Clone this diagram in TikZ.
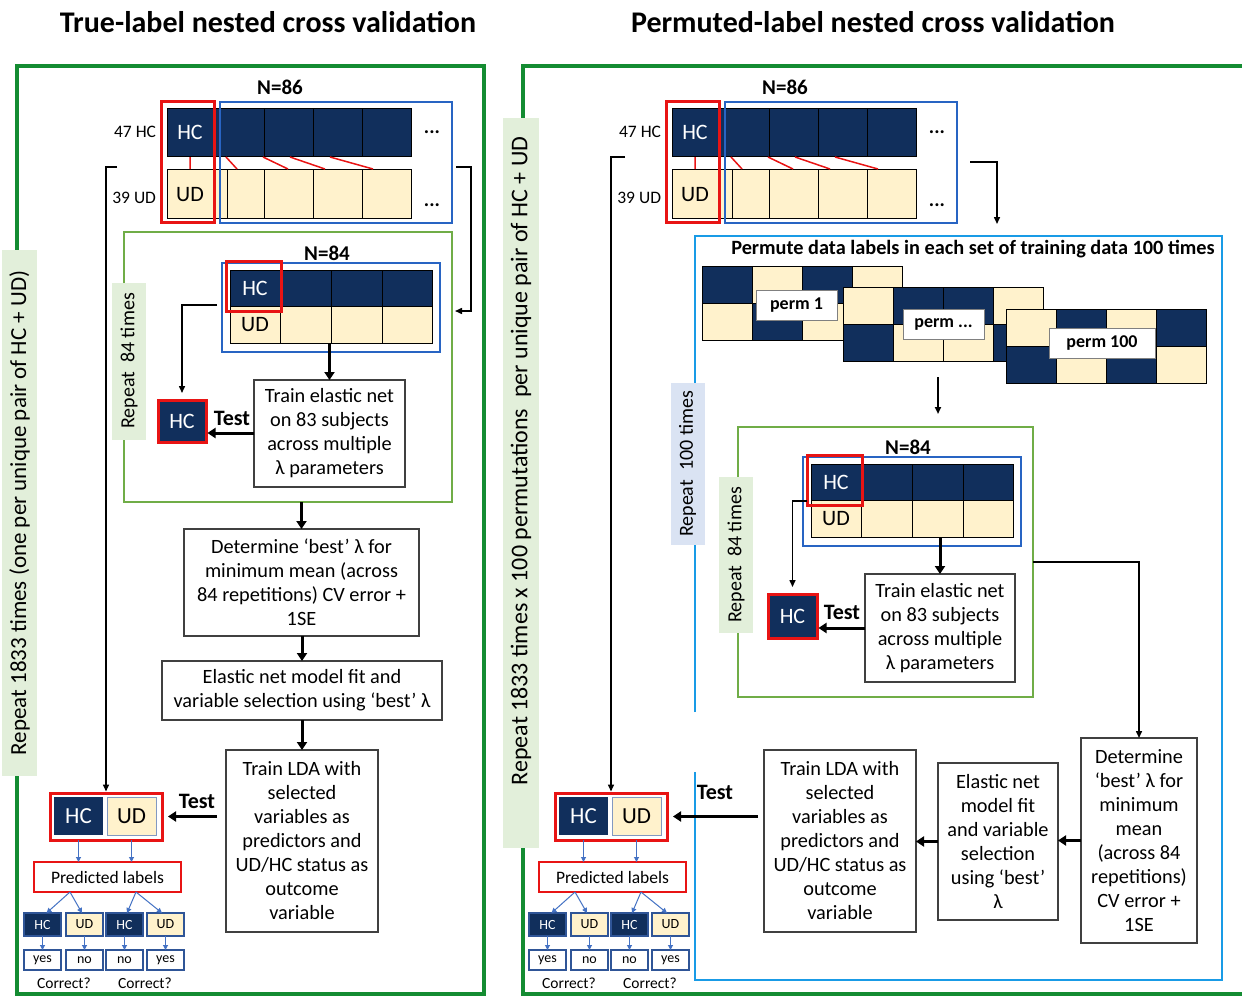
\documentclass[tikz,border=0pt]{standalone}
\usepackage{fontspec}
\setmainfont{Carlito}
\usetikzlibrary{arrows.meta}
\definecolor{navy}{RGB}{17,47,92}
\definecolor{cream}{RGB}{255,242,204}
\definecolor{myred}{RGB}{232,20,20}
\definecolor{dblue}{RGB}{40,100,195}
\definecolor{lblue}{RGB}{25,155,230}
\definecolor{ogreen}{RGB}{20,140,50}
\definecolor{igreen}{RGB}{112,173,71}
\definecolor{lgreen}{RGB}{226,239,218}
\definecolor{lav}{RGB}{218,227,243}
\definecolor{sblue}{RGB}{68,114,196}
\definecolor{bdblue}{RGB}{47,85,151}
\tikzset{
 every node/.style={inner sep=0pt, outer sep=0pt},
 body/.style={font=\fontsize{20.3}{24}\selectfont, align=center},
 tbox/.style={draw=black!75, line width=1.3pt, fill=white, body, anchor=north west},
 lbl/.style={font=\fontsize{23}{27}\selectfont, rotate=90, fill=lgreen},
 rep/.style={font=\fontsize{20}{24}\selectfont, rotate=90},
 ttl/.style={font=\fontsize{30}{36}\selectfont\bfseries},
 nlab/.style={font=\fontsize{21}{25}\selectfont\bfseries},
 side/.style={font=\fontsize{17.5}{20}\selectfont, anchor=east},
 celltxt/.style={font=\fontsize{22}{26}\selectfont},
 redfr/.style={draw=myred, line width=3pt, anchor=north west},
 bluefr/.style={draw=dblue, line width=2.5pt, anchor=north west},
 cellline/.style={draw=black, line width=0.8pt},
 conn/.style={draw=black, line width=1.5pt, -{Triangle[length=7pt,width=6pt]}},
 thk/.style={draw=black, line width=3pt, -{Triangle[length=8pt,width=10pt]}},
 barr/.style={draw=sblue, line width=1pt, -{Triangle[length=5pt,width=5pt]}},
 small/.style={draw=bdblue, line width=1.2pt, minimum width=37pt, minimum height=23pt, anchor=north west, font=\fontsize{14}{16}\selectfont},
 yn/.style={small, fill=white, minimum height=20pt},
 testl/.style={font=\fontsize{22}{25}\selectfont\bfseries},
 hcbox/.style={fill=navy, draw=myred, line width=3pt, text=white, anchor=north west, celltxt},
 plab/.style={fill=white, draw=black!50, line width=1pt, anchor=north west, minimum height=30pt, font=\fontsize{18}{20}\selectfont\bfseries},
 gbox/.style={draw=igreen, line width=2pt, anchor=north west}
}
\newcommand{\topdata}[1]{%
 \node[nlab] (#1-n86) at (280,87) {N=86};
 \filldraw[fill=navy, cellline] (167,108) rectangle (411,156);
 \foreach \x in {220,264,313,362} \draw[cellline] (\x,108) -- (\x,156);
 \filldraw[fill=cream, cellline] (167,169) rectangle (411,218);
 \foreach \x in {227,264,313,362} \draw[cellline] (\x,169) -- (\x,218);
 \draw[myred, line width=1.5pt] (190,157)--(190,169) (226,157)--(237,169) (263,157)--(288,169) (290,157)--(325,169) (330,157)--(373,169);
 \node[redfr, minimum width=53pt, minimum height=121pt] (#1-red86) at (161,101) {};
 \node[bluefr, minimum width=232pt, minimum height=121pt] (#1-blue86) at (220,102) {};
 \node[celltxt, text=white] (#1-hc86) at (190,132) {HC};
 \node[celltxt] (#1-ud86) at (190,195) {UD};
 \node[font=\fontsize{20}{24}\selectfont\bfseries] (#1-dots1) at (432,132) {...};
 \node[font=\fontsize{20}{24}\selectfont\bfseries] (#1-dots2) at (432,205) {...};
 \node[side] (#1-47) at (156,132) {47 HC};
 \node[side] (#1-39) at (156,198) {39 UD};
}
\newcommand{\dataeightyfour}[1]{%
 \node[nlab] (#1-n84) at (327,253) {N=84};
 \filldraw[fill=navy, cellline] (230,270) rectangle (432,306);
 \filldraw[fill=cream, cellline] (230,306) rectangle (432,343);
 \foreach \x in {280,331,382} \draw[cellline] (\x,270) -- (\x,343);
 \node[bluefr, minimum width=218pt, minimum height=89pt] (#1-d84) at (222,263) {};
 \node[redfr, minimum width=55pt, minimum height=50pt] (#1-r84) at (226,261) {};
 \node[celltxt, text=white] (#1-hc84) at (255,288) {HC};
 \node[celltxt] (#1-ud84) at (255,325) {UD};
 \coordinate (#1-d84w) at (217,305);
 \coordinate (#1-d84b) at (0,343);
}
\newcommand{\bottompart}[1]{%
 \node[redfr, minimum width=112pt, minimum height=47pt, fill=white] (#1-pair) at (50,793) {};
 \node[anchor=north west, fill=navy, minimum width=49pt, minimum height=38pt, text=white, font=\fontsize{23}{27}\selectfont] (#1-phc) at (54,797) {HC};
 \node[anchor=north west, fill=cream, draw=bdblue!60, line width=1pt, minimum width=49pt, minimum height=38pt, font=\fontsize{23}{27}\selectfont] (#1-pud) at (107,797) {UD};
 \node[draw=myred, line width=1.2pt, minimum width=147pt, minimum height=30pt, anchor=north west, font=\fontsize{17.5}{20}\selectfont] (#1-pred) at (34,862) {Predicted labels};
 \draw[barr] (#1-phc.south |- #1-pair.south) -- (#1-phc.south |- #1-pred.north);
 \draw[barr] (#1-pud.south |- #1-pair.south) -- (#1-pud.south |- #1-pred.north);
 \node[small, fill=navy, text=white] (#1-s1) at (24,913) {HC};
 \node[small, fill=cream] (#1-s2) at (66,913) {UD};
 \node[small, fill=navy, text=white] (#1-s3) at (106,913) {HC};
 \node[small, fill=cream] (#1-s4) at (147,913) {UD};
 \node[yn] (#1-y1) at (24,950) {yes};
 \node[yn] (#1-y2) at (66,950) {no};
 \node[yn] (#1-y3) at (106,950) {no};
 \node[yn] (#1-y4) at (147,950) {yes};
 \path (#1-pred.south) ++(-37.5,0) coordinate (#1-pa);
 \path (#1-pred.south) ++(28.5,0) coordinate (#1-pb);
 \draw[barr] (#1-pa) -- ([xshift=4pt]#1-s1.north);
 \draw[barr] (#1-pa) -- ([xshift=-2.5pt]#1-s2.north);
 \draw[barr] (#1-pb) -- ([xshift=2.5pt]#1-s3.north);
 \draw[barr] (#1-pb) -- ([xshift=-3.5pt]#1-s4.north);
 \foreach \i in {1,2,3,4} \draw[barr] (#1-s\i.south) -- (#1-y\i.north);
 \node[font=\fontsize{15.5}{18}\selectfont] (#1-c1) at (64,983) {Correct?};
 \node[font=\fontsize{15.5}{18}\selectfont] (#1-c2) at (145,983) {Correct?};
}
\newcommand{\permblock}[4]{%
 \foreach \c [count=\i from 0] in {#3} \filldraw[fill=\c, cellline] ({#1+\i*50},#2) rectangle ++(50,37);
 \foreach \c [count=\i from 0] in {#4} \filldraw[fill=\c, cellline] ({#1+\i*50},{#2+37}) rectangle ++(50,37);
}
\begin{document}
\begin{tikzpicture}[x=1pt,y=-1pt]
\useasboundingbox (0,0) rectangle (1242,996);
\fill[white] (0,0) rectangle (1242,996);
% ================= LEFT PANEL =================
\node[ttl] (t1) at (268,22) {True-label nested cross validation};
\draw[ogreen, line width=4pt] (17,66) rectangle (484,994);
\node[lbl, minimum width=526pt, minimum height=35pt] (l-rep) at (19.5,513) {Repeat 1833 times (one per unique pair of HC + UD)};
\topdata{l}
\node[gbox, minimum width=328pt, minimum height=270pt] (l-g84) at (124,232) {};
\node[rep, fill=lgreen, minimum width=157pt, minimum height=34pt] (l-rep84) at (129,361) {Repeat\ \ 84 times};
\dataeightyfour{l}
\node[hcbox, minimum width=48pt, minimum height=42pt] (l-hct) at (158,400) {HC};
\node[tbox, minimum width=151pt, minimum height=107pt] (l-train84) at (254,380) {Train elastic net\\on 83 subjects\\across multiple\\λ parameters};
\draw[conn, shorten >=7pt] (l-d84w) -| (l-hct.north);
\draw[thk] (l-train84.north |- l-d84b) -- (l-train84.north);
\path (l-hct.east) ++(0,12) coordinate (l-ta);
\draw[thk, shorten >=1.5pt] (l-train84.west |- l-ta) -- (l-ta);
\node[testl] (l-test1) at (232,418) {Test};
\node[tbox, minimum width=235pt, minimum height=107pt] (l-det) at (184,529) {Determine ‘best’ λ for\\minimum mean (across\\84 repetitions) CV error +\\1SE};
\node[tbox, minimum width=280pt, minimum height=59pt] (l-ela) at (162,661) {Elastic net model fit and\\variable selection using ‘best’ λ};
\node[tbox, minimum width=152pt, minimum height=182pt] (l-lda) at (226,750) {Train LDA with\\selected\\variables as\\predictors and\\UD/HC status as\\outcome\\variable};
\draw[thk] (l-det.north |- l-g84.south) -- (l-det.north);
\draw[thk] (l-ela.north |- l-det.south) -- (l-ela.north);
\draw[thk] (l-lda.north |- l-ela.south) -- (l-lda.north);
\bottompart{l}
\draw[thk, shorten <=9pt, shorten >=6pt] (l-lda.west |- l-pair.east) -- (l-pair.east);
\node[testl] (l-test2) at (197,801) {Test};
\coordinate (l-brl) at (117,167);
\draw[conn, shorten >=1.5pt] (l-brl) -| (l-pair.north);
\coordinate (l-brr) at (456,167);
\coordinate (l-brr2) at (455,311);
\draw[conn] (l-brr) -- (471,167) -- (471,311) -- (l-brr2);
% ================= RIGHT PANEL =================
\node[ttl] (t2) at (873,22) {Permuted-label nested cross validation};
\draw[ogreen, line width=4pt] (1262,66) -- (523,66) -- (523,994) -- (1262,994);
\node[lbl, font=\fontsize{24}{28}\selectfont, minimum width=730pt, minimum height=36pt] (r-rep) at (521,483) {\hspace*{44pt}Repeat 1833 times x 100 permutations\ \ per unique pair of HC + UD};
\begin{scope}[xshift=505pt]
\topdata{r}
\bottompart{r}
\end{scope}
\draw[lblue, line width=2.5pt] (695,712) -- (695,236) -- (1222,236) -- (1222,980) -- (695,980) -- (695,772);
\node[rep, fill=lav, minimum width=162pt, minimum height=34pt] (r-rep100) at (687.5,464) {Repeat\ \ 100 times};
\node[font=\fontsize{20.3}{24}\selectfont\bfseries] (r-ptitle) at (973,249) {Permute data labels in each set of training data 100 times};
\permblock{702}{266}{navy,cream,navy,cream}{cream,navy,cream,cream}
\permblock{843}{287}{cream,navy,navy,cream}{navy,cream,cream,navy}
\permblock{1006}{309}{cream,navy,cream,navy}{navy,cream,navy,cream}
\node[plab, minimum width=81pt] (r-p1) at (756,290) {perm 1};
\node[plab, minimum width=81pt] (r-p2) at (903,309) {perm ...};
\node[plab, minimum width=106pt] (r-p3) at (1049,328) {perm 100};
\coordinate (r-pa1) at (938,377);
\coordinate (r-pa2) at (938,414);
\draw[conn, line width=2pt] (r-pa1) -- (r-pa2);
\node[gbox, minimum width=295pt, minimum height=270pt] (r-g84) at (738,427) {};
\node[rep, fill=lgreen, minimum width=156pt, minimum height=34pt] (r-rep84) at (736,555) {Repeat\ \ 84 times};
\begin{scope}[xshift=581pt, yshift=-194pt]
\dataeightyfour{r}
\end{scope}
\node[hcbox, minimum width=49pt, minimum height=44pt] (r-hct) at (768,594) {HC};
\node[tbox, minimum width=150pt, minimum height=108pt] (r-train84) at (865,574) {Train elastic net\\on 83 subjects\\across multiple\\λ parameters};
\coordinate (r-d84w2) at (807,501);
\draw[conn, shorten >=7pt] (r-d84w2) -| (r-hct.north);
\draw[thk] (r-train84.north |- r-d84b) -- (r-train84.north);
\path (r-hct.east) ++(0,12) coordinate (r-ta);
\draw[thk, shorten >=1.5pt] (r-train84.west |- r-ta) -- (r-ta);
\node[testl] (r-test1) at (842,612) {Test};
\node[tbox, minimum width=116pt, minimum height=205pt] (r-det) at (1081,738) {Determine\\‘best’ λ for\\minimum\\mean\\(across 84\\repetitions)\\CV error +\\1SE};
\node[tbox, minimum width=120pt, minimum height=157pt] (r-ela) at (938,763) {Elastic net\\model fit\\and variable\\selection\\using ‘best’\\λ};
\node[tbox, minimum width=152pt, minimum height=182pt] (r-lda) at (764,750) {Train LDA with\\selected\\variables as\\predictors and\\UD/HC status as\\outcome\\variable};
\draw[conn] (r-g84.east) -| (r-det.north);
\draw[thk] (r-det.west) -- (r-det.west -| r-ela.east);
\draw[thk] (r-ela.west) -- (r-ela.west -| r-lda.east);
\draw[thk, shorten <=6pt, shorten >=6pt] (r-lda.west |- r-pair.east) -- (r-pair.east);
\node[testl] (r-test2) at (715,792) {Test};
\coordinate (r-brl) at (625,157);
\draw[conn, shorten >=1.5pt] (r-brl) -| (r-pair.north);
\coordinate (r-brr) at (970,162);
\coordinate (r-brr2) at (997,224);
\draw[conn] (r-brr) -| (r-brr2);
\end{tikzpicture}
\end{document}
